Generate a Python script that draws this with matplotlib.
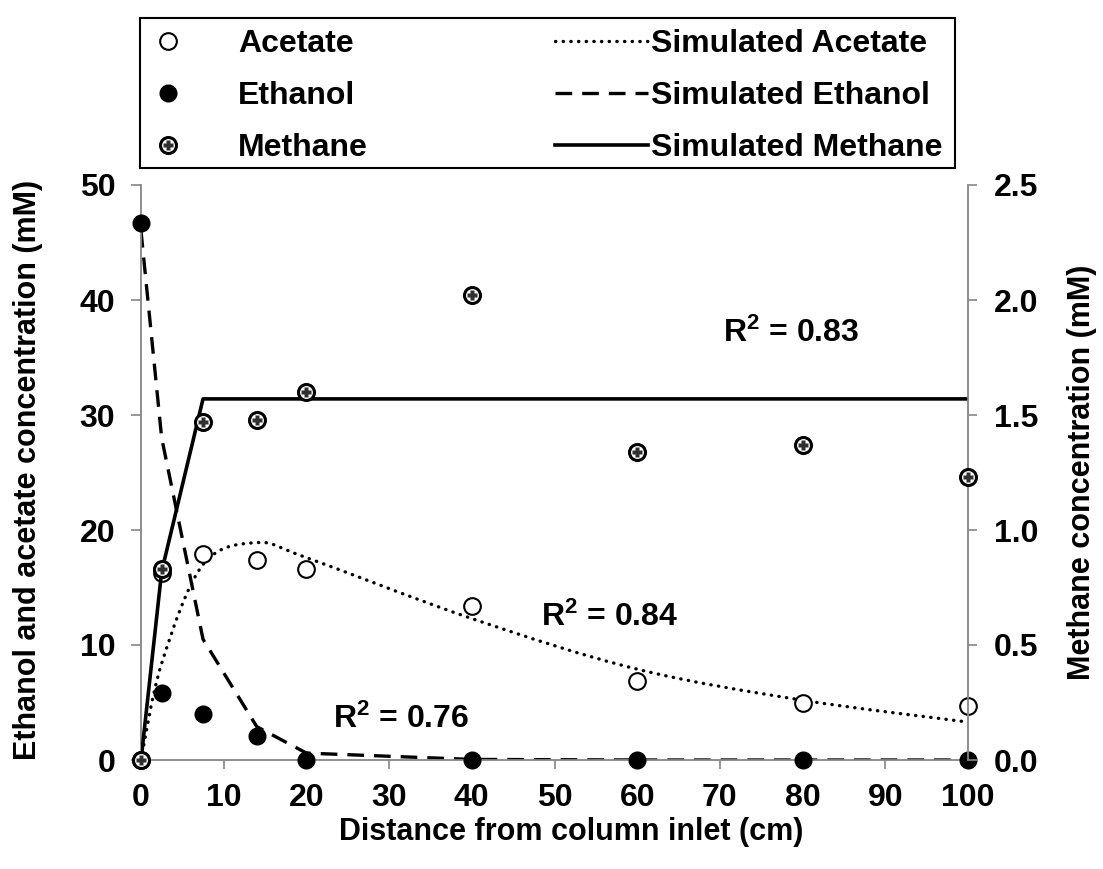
import matplotlib
matplotlib.use("Agg")
import matplotlib.pyplot as plt
import numpy as np
from matplotlib.legend_handler import HandlerTuple
from matplotlib.lines import Line2D
from matplotlib.patches import PathPatch, Rectangle
from matplotlib.path import Path

plt.rcParams["font.family"] = ["Liberation Sans", "DejaVu Sans"]
plt.rcParams["font.weight"] = "bold"
plt.rcParams["mathtext.fontset"] = "custom"
plt.rcParams["mathtext.rm"] = "Liberation Sans:bold"
plt.rcParams["mathtext.it"] = "Liberation Sans:bold"
plt.rcParams["mathtext.bf"] = "Liberation Sans:bold"

# measured data (distance from inlet, cm)
distance = [0, 2.5, 7.5, 14, 20, 40, 60, 80, 100]
acetate = [0, 16.3, 17.9, 17.4, 16.6, 13.4, 6.9, 5.0, 4.7]
ethanol = [46.7, 5.8, 4.0, 2.1, 0, 0, 0, 0, 0]
methane = [0, 0.83, 1.47, 1.48, 1.60, 2.02, 1.34, 1.37, 1.23]

# simulated profiles
sim_acetate = [0, 8.4, 17.0, 18.9, 17.6, 12.3, 7.9, 5.2, 3.3]
sim_ethanol = [46.0, 28.0, 10.5, 2.9, 0.6, 0.05, 0, 0, 0]
sim_methane = [0, 0.82, 1.57, 1.57, 1.57, 1.57, 1.57, 1.57, 1.57]

x_ticks = list(range(0, 101, 10))
left_ticks = [0, 10, 20, 30, 40, 50]
right_ticks = [0.0, 0.5, 1.0, 1.5, 2.0, 2.5]

r2_labels = [
    (70.4, 37.1, r"R$^{2}$ = 0.83"),
    (48.4, 12.4, r"R$^{2}$ = 0.84"),
    (23.2, 3.5, r"R$^{2}$ = 0.76"),
]

GRAY = "#868686"
FS = 23
FS_LABEL = 22


def smooth_path(x, y):
    # Excel-like smoothed line: cubic Bezier through the points
    pts = np.column_stack([x, y]).astype(float)
    n = len(pts)
    verts = [pts[0]]
    codes = [Path.MOVETO]
    for i in range(n - 1):
        p0 = pts[max(i - 1, 0)]
        p1 = pts[i]
        p2 = pts[i + 1]
        p3 = pts[min(i + 2, n - 1)]
        verts += [p1 + (p2 - p0) / 6, p2 - (p3 - p1) / 6, p2]
        codes += [Path.CURVE4] * 3
    return Path(verts, codes)


fig = plt.figure(figsize=(11.03, 8.69), dpi=100)
ax = fig.add_axes([141 / 1103, 1 - 760 / 869, 827 / 1103, 575 / 869])
ax2 = ax.twinx()

dash_style = dict(color="black", lw=2.4, linestyle=(0, (5.0, 3.0)))
solid_style = dict(color="black", lw=2.6, linestyle="-")
acetate_style = dict(ls="none", marker="o", ms=12, mfc="white", mec="black", mew=1.5)
ethanol_style = dict(ls="none", marker="o", ms=12, mfc="black", mec="black", mew=1.0)
methane_ring = dict(ls="none", marker="o", ms=11.5, mfc="white", mec="black", mew=2.2)
methane_check = dict(ls="none", marker="P", ms=7, mfc="#303030", mec="none")

ax.add_patch(PathPatch(smooth_path(distance, sim_acetate), fill=False,
                       transform=ax.transData, zorder=2, capstyle="round",
                       color="black", lw=2.4, linestyle=(0, (0.1, 2.2))))
ax.plot(distance, sim_ethanol, zorder=2, **dash_style)
ax2.plot(distance, sim_methane, zorder=2, **solid_style)

ax.plot(distance, acetate, zorder=3, clip_on=False, **acetate_style)
ax.plot(distance, ethanol, zorder=3, clip_on=False, **ethanol_style)
ax2.plot(distance, methane, zorder=4, clip_on=False, **methane_ring)
ax2.plot(distance, methane, zorder=5, clip_on=False, **methane_check)

ax.set_xlim(0, 100)
ax.set_ylim(0, 50)
ax2.set_ylim(0, 2.5)
ax.set_xticks(x_ticks)
ax.set_yticks(left_ticks)
ax2.set_yticks(right_ticks)
ax2.set_yticklabels([f"{v:.1f}" for v in right_ticks])

for a in (ax, ax2):
    a.spines["top"].set_visible(False)
    for s in ("left", "right", "bottom"):
        a.spines[s].set_color(GRAY)
        a.spines[s].set_linewidth(1.3)
ax.spines["right"].set_visible(False)
ax2.spines["left"].set_visible(False)
ax2.spines["bottom"].set_visible(False)

ax.tick_params(axis="x", direction="out", length=6.5, width=1.2, color=GRAY,
               labelsize=FS, pad=10)
ax.tick_params(axis="y", direction="out", length=7.5, width=1.2, color=GRAY,
               labelsize=FS, pad=11)
ax2.tick_params(axis="y", direction="out", length=6.5, width=1.2, color=GRAY,
                labelsize=FS, pad=12)
for lab in ax.get_xticklabels() + ax.get_yticklabels() + ax2.get_yticklabels():
    lab.set_fontweight("bold")

for x, y, txt in r2_labels:
    ax.text(x, y, txt, fontsize=FS, fontweight="bold", ha="left", va="center",
            zorder=6)

fig.text(28 / 1103, 1 - 470 / 869, "Ethanol and acetate concentration (mM)",
         rotation=90, ha="center", va="center", fontsize=FS_LABEL, fontweight="bold")
fig.text(1082 / 1103, 1 - 472 / 869, "Methane concentration (mM)",
         rotation=90, ha="center", va="center", fontsize=FS_LABEL, fontweight="bold")
fig.text(571 / 1103, 1 - 832 / 869, "Distance from column inlet (cm)",
         ha="center", va="center", fontsize=FS_LABEL, fontweight="bold")

# legend: markers on the left, simulated lines on the right, one frame
marker_handles = [
    Line2D([], [], **acetate_style),
    Line2D([], [], **ethanol_style),
    (Line2D([], [], **methane_ring), Line2D([], [], **methane_check)),
]
line_handles = [
    Line2D([], [], color="black", lw=2.4, linestyle=(0, (0.1, 2.2)),
           dash_capstyle="round"),
    Line2D([], [], **dash_style),
    Line2D([], [], **solid_style),
]
leg_kw = dict(frameon=False, borderpad=0, borderaxespad=0, labelspacing=0.69,
              prop={"size": FS, "weight": "bold"}, numpoints=1,
              handler_map={tuple: HandlerTuple(ndivide=1, pad=0)})
leg1 = fig.legend(marker_handles, ["Acetate", "Ethanol", "Methane"],
                  loc="upper left", bbox_to_anchor=(155 / 1103, 1 - 29 / 869),
                  handlelength=0.8, handletextpad=1.8, **leg_kw)
leg2 = fig.legend(line_handles,
                  ["Simulated Acetate", "Simulated Ethanol", "Simulated Methane"],
                  loc="upper left", bbox_to_anchor=(555 / 1103, 1 - 29 / 869),
                  handlelength=2.9, handletextpad=0.1, **leg_kw)
fig.patches.append(Rectangle((140 / 1103, 1 - 168 / 869), 815 / 1103, 150 / 869,
                             transform=fig.transFigure, fill=False,
                             edgecolor="black", lw=1.5))

fig.savefig("out.png", dpi=100)
